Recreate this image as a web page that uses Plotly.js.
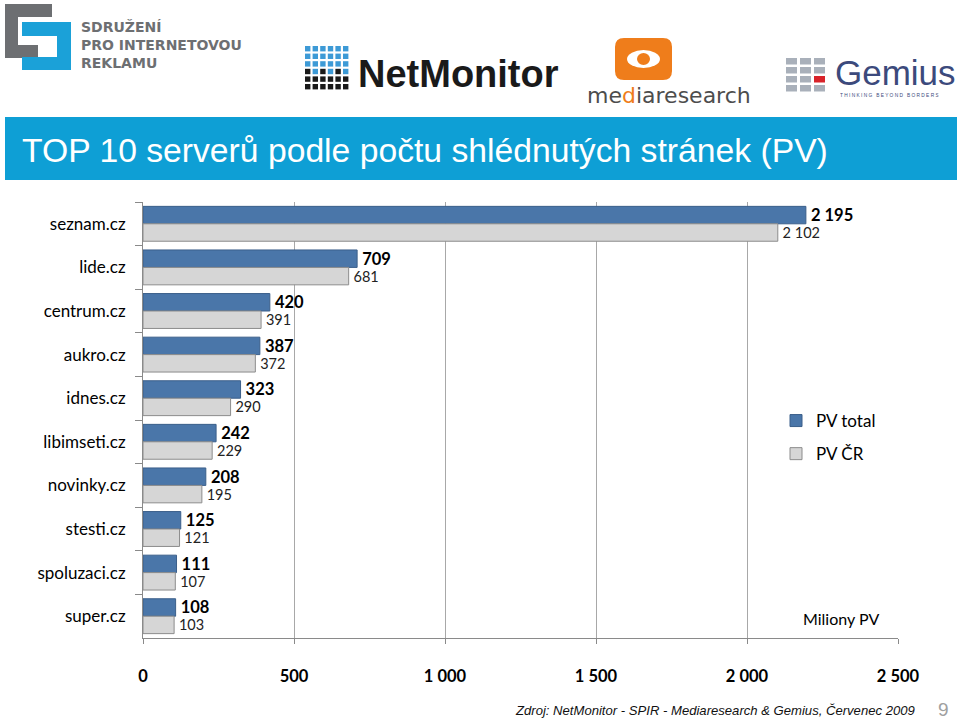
<!DOCTYPE html>
<html><head><meta charset="utf-8">
<script src="https://cdn.plot.ly/plotly-3.0.1.min.js"></script>
<style>html,body{margin:0;padding:0;background:#fff;}#chart{width:960px;height:719px;}</style>
</head><body><div id="chart"></div>
<script>
// ---- data ----
const servers = ["seznam.cz","lide.cz","centrum.cz","aukro.cz","idnes.cz","libimseti.cz","novinky.cz","stesti.cz","spoluzaci.cz","super.cz"];
const pvTotal = [2195, 709, 420, 387, 323, 242, 208, 125, 111, 108];
const pvCR    = [2102, 681, 391, 372, 290, 229, 195, 121, 107, 103];
const seriesNames = ["PV total", "PV ČR"];
const xTicks = [0, 500, 1000, 1500, 2000, 2500];

// ---- pixel helpers for decoration ----
const L = 143, R = 898, T = 202, B = 638;
const px = x => (x - L) / (R - L);
const py = y => (B - y) / (B - T);

const shapes = [];
const ann = [];
function rect(x0, y0, x1, y1, color, extra) {
  shapes.push(Object.assign({type:'rect', xref:'paper', yref:'paper', x0:px(x0), x1:px(x1), y0:py(y1), y1:py(y0), fillcolor:color, line:{width:0}, layer:'above'}, extra||{}));
}
function text(x, y, t, font, xanchor, extra) {
  ann.push(Object.assign({xref:'paper', yref:'paper', x:px(x), y:py(y), text:t, showarrow:false, xanchor:xanchor||'left', yanchor:'middle', font:font}, extra||{}));
}

// Title banner
rect(5, 117, 957, 180, '#0e9fd5');
text(20, 150, 'TOP 10 serverů podle počtu shlédnutých stránek (PV)', {family:'Liberation Sans, Arial', size:33.7, color:'#ffffff'});

// SPIR logo
const g = '#6d6f72', b = '#1ba1d8';
rect(5, 4, 52, 17, g); rect(5, 4, 18, 58, g); rect(5, 45, 38, 58, g);
rect(22, 22, 71, 36, b); rect(57, 22, 71, 70, b); rect(22, 57, 71, 70, b);
text(79, 45, '<b>SDRUŽENÍ<br>PRO INTERNETOVOU<br>REKLAMU</b>', {family:'DejaVu Sans', size:14, color:g}, 'left', {align:'left'});

// NetMonitor logo
const blueRows = [
  [1,1,1,1,1,1],[1,1,1,1,1,1],[1,1,1,1,1,1],[0,1,0,1,0,1],[0,0,0,0,0,0],[0,0,0,0,0,0]];
for (let r = 0; r < 6; r++) for (let c = 0; c < 6; c++) {
  const x0 = 305 + c * 7.6, y0 = 46 + r * 7.6;
  rect(x0, y0, x0 + 5.4, y0 + 5.4, blueRows[r][c] ? '#3d9ad6' : '#1a1a1a');
}
text(356, 74, '<b>NetMonitor</b>', {family:'Liberation Sans, Arial', size:38, color:'#1a1a1a'});

// mediaresearch logo
shapes.push({type:'path', xref:'paper', yref:'paper', layer:'above', fillcolor:'#ef7d1b', line:{width:0},
  path:`M ${px(624)} ${py(38)} L ${px(663)} ${py(38)} Q ${px(672)} ${py(38)} ${px(672)} ${py(47)} L ${px(672)} ${py(71)} Q ${px(672)} ${py(80)} ${px(663)} ${py(80)} L ${px(624)} ${py(80)} Q ${px(615)} ${py(80)} ${px(615)} ${py(71)} L ${px(615)} ${py(47)} Q ${px(615)} ${py(38)} ${px(624)} ${py(38)} Z`});
shapes.push({type:'circle', xref:'paper', yref:'paper', layer:'above', fillcolor:'#ffffff', line:{width:0}, x0:px(627), x1:px(660), y0:py(68), y1:py(50)});
shapes.push({type:'circle', xref:'paper', yref:'paper', layer:'above', fillcolor:'#ef7d1b', line:{width:0}, x0:px(637), x1:px(650), y0:py(65), y1:py(53)});
text(669, 95, 'me<span style="color:#ef7d1b">d</span>iaresearch', {family:'DejaVu Sans ExtraLight, DejaVu Sans', size:22, color:'#4d4d4d'}, 'center');

// Gemius logo
const gq = '#a9b0ba';
for (let c = 0; c < 3; c++) for (let r = 0; r < 4; r++) {
  const x0 = 786 + c * 14, y0 = 58 + r * 9;
  rect(x0, y0, x0 + 11, y0 + 6.5, (c === 2 && r === 2) ? '#d8232a' : gq);
}
text(833, 72, 'Gemius', {family:'Liberation Sans, Arial', size:35, color:'#3c4a7c'}, 'left', {height:30});
text(838, 95, 'T H I N K I N G   B E Y O N D   B O R D E R S', {family:'Liberation Sans, Arial', size:4.8, color:'#3c4a7c'}, 'left', {height:6});

// Axis unit note
text(841, 618, 'Miliony PV', {family:'Lato', size:16, color:'#000'}, 'center');

// Footer
text(918, 710, '<i>Zdroj: NetMonitor - SPIR - Mediaresearch &amp; Gemius, Červenec 2009</i>', {family:'Liberation Sans, Arial', size:13.1, color:'#111'}, 'right');
text(943, 709, '9', {family:'Liberation Sans, Arial', size:19, color:'#a0a0a0'}, 'center');

const traces = [
  {type:'bar', orientation:'h', name:seriesNames[0], y:servers, x:pvTotal, legendgroup:'a',
   marker:{color:'#4a76a9', line:{color:'#3b5f8a', width:1}},
   texttemplate:'\u2009<b>%{x:,d}</b>', textposition:'outside', cliponaxis:false, constraintext:'none',
   textfont:{family:'Lato', size:16.5, color:'#000'}, hoverinfo:'skip'},
  {type:'bar', orientation:'h', name:seriesNames[1], y:servers, x:pvCR, legendgroup:'b',
   marker:{color:'#d6d6d6', line:{color:'#8c8c8c', width:1}},
   texttemplate:'\u2009%{x:,d}', textposition:'outside', cliponaxis:false, constraintext:'none',
   textfont:{family:'Lato', size:14.5, color:'#222'}, hoverinfo:'skip'}
];

const layout = {
  width:960, height:719,
  margin:{l:L, r:960-R, t:T, b:719-B, pad:0},
  paper_bgcolor:'#fff', plot_bgcolor:'#fff',
  separators:', ',
  barmode:'group', bargap:0.2, bargroupgap:0,
  showlegend:true,
  legend:{x:px(776), y:py(403), xanchor:'left', yanchor:'top', font:{family:'Lato', size:17, color:'#000'},
          traceorder:'grouped', tracegroupgap:8, bgcolor:'rgba(0,0,0,0)', itemwidth:30},
  xaxis:{range:[0,2500], tickvals:xTicks, tickformat:',d', showgrid:true, gridcolor:'#a8a8a8', gridwidth:1,
         zeroline:false, showline:true, linecolor:'#8a8a8a', ticks:'outside', ticklen:5, tickcolor:'#8a8a8a',
         ticklabelstandoff:18, tickfont:{family:'Lato', size:16.5, color:'#000', weight:'bold'}, fixedrange:true},
  yaxis:{autorange:'reversed', type:'category', showline:true, linecolor:'#8a8a8a', ticks:'outside', tickson:'boundaries',
         ticklen:7, tickcolor:'#8a8a8a', ticklabelstandoff:13, showgrid:false, zeroline:false,
         tickfont:{family:'Lato', size:17, color:'#000'}, fixedrange:true},
  shapes:shapes, annotations:ann
};

Plotly.newPlot('chart', traces, layout, {displayModeBar:false, staticPlot:true});
</script></body></html>
